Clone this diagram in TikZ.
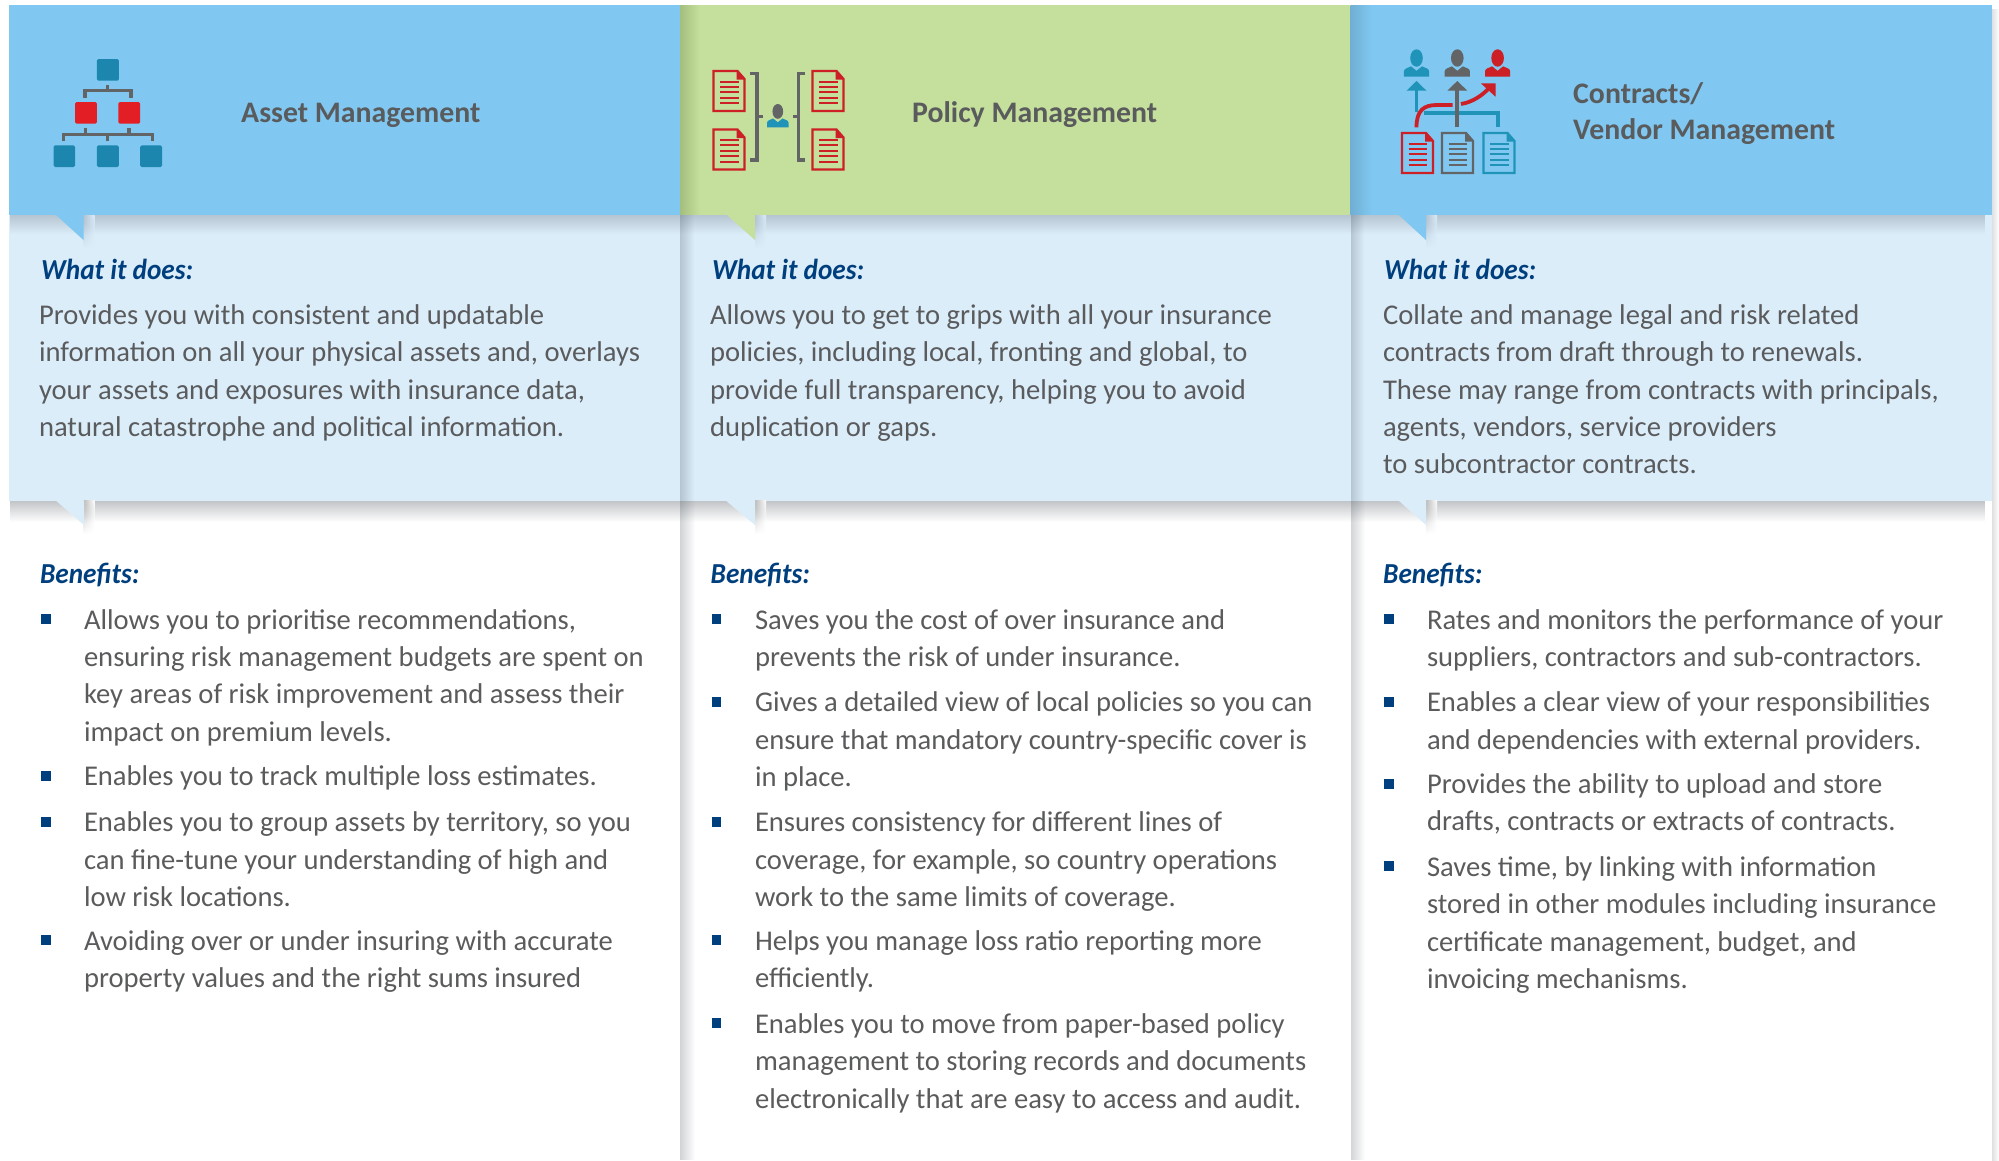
\documentclass[tikz,border=0pt]{standalone}
\usepackage{fontspec}
\usetikzlibrary{fadings}
\setmainfont{Carlito}
\newfontfamily\subfont[FakeStretch=0.94]{Carlito}
\definecolor{hblue}{HTML}{80C8F1}
\definecolor{hgreen}{HTML}{C5DF9C}
\definecolor{lblue}{HTML}{DCEDFA}
\definecolor{txt}{HTML}{5A5B5D}
\definecolor{navy}{HTML}{003F7D}
\definecolor{iteal}{HTML}{1C86AF}
\definecolor{iteal2}{HTML}{2094B8}
\definecolor{ired}{HTML}{E31E24}
\definecolor{dred}{HTML}{CC1F26}
\definecolor{igray}{HTML}{636466}
\definecolor{shblue}{HTML}{B3C3D3}
\definecolor{shgreen}{HTML}{A4BE7E}
\definecolor{shhead}{HTML}{70AFD3}
\definecolor{shwhite}{HTML}{BDBDBD}
\definecolor{shink}{HTML}{1A2530}
\tikzset{
  x=1pt,y=-1pt,
  bodytxt/.style={anchor=north west,inner sep=0pt,outer sep=0pt,align=left,text=txt,
    font=\fontsize{28.6}{37.4}\selectfont},
  headtxt/.style={anchor=base west,inner sep=0pt,text=txt,font=\fontsize{29.8}{37}\selectfont\bfseries},
  subhead/.style={anchor=base west,inner sep=0pt,text=navy,font=\fontsize{29}{37}\selectfont\subfont\bfseries\itshape},
  bull/.style={fill=navy,draw=none},
  conn/.style={draw=igray,line width=3.4pt},
  orgbox/.style={rounded corners=1.5pt,draw=none},
  shadeast/.style={fill=shink,fill opacity=#1,path fading=east},
  shadsouth/.style={fill=shink,fill opacity=#1,path fading=south},
}
\newcommand{\ts}{\rule{0pt}{21pt}}
\newcommand{\bulat}[2]{\fill[bull] (#1,#2-5) rectangle ++(9.5,10);}
\newcommand{\docicon}[3]{%
  \begin{scope}[shift={(#1,#2)}]
    \draw[draw=#3,line width=2.2pt,line join=miter] (0,0) -- (24,0) -- (31,8) -- (31,40) -- (0,40) -- cycle;
    \fill[#3] (23,0) -- (31.5,8.5) -- (23,8.5) -- cycle;
    \foreach \yy in {10.5,15.9,21.3,26.7,32.1}{\draw[draw=#3,line width=2pt] (6.5,\yy) -- (25,\yy);}
  \end{scope}}
\newcommand{\personicon}[5]{% x(center) ytop scale head body
  \begin{scope}[shift={(#1,#2)},scale=#3]
    \fill[#4] (0,8.7) ellipse [x radius=6.3,y radius=8.7];
    \fill[#5] (-12.6,27.4) -- (-12.6,22) .. controls (-12.6,19) and (-8,18.5) .. (-5.5,17)
       -- (0,21.5) -- (5.5,17) .. controls (8,18.5) and (12.6,19) .. (12.6,22) -- (12.6,27.4) -- cycle;
  \end{scope}}
\begin{document}
\begin{tikzpicture}
\useasboundingbox (0,0) rectangle (1999,1160);
% ---------- header bands
\fill[hblue] (9,5.3) rectangle (680,215);
\fill[hgreen] (680,5.3) rectangle (1350.5,215);
\fill[hblue] (1350.5,5.3) rectangle (1992,215);
\shade[left color=shgreen,right color=hgreen] (680,5.3) rectangle (700,215);
\shade[left color=shhead,right color=hblue] (1350.5,5.3) rectangle (1372,215);
% ---------- light panels
\fill[lblue] (9,215) rectangle (1992,500.7);
\fill[shadeast=.2] (680,215) rectangle (694,500.7);
\fill[shadeast=.2] (1350.5,215) rectangle (1364,500.7);
\fill[shadsouth=.2] (12,215) rectangle (1992,234);
% ---------- white zone shadows
\fill[shadeast=.2] (680,500.7) rectangle (695,1160);
\fill[shadeast=.2] (1350.5,500.7) rectangle (1365,1160);
\fill[shadeast=.14] (1992,5.3) rectangle (1999,1160);
\fill[shadsouth=.27] (12,500.7) rectangle (1992,522);
% ---------- tail shadows
\foreach \tx in {83.5,755,1426}{
  \shade[left color=shblue,right color=lblue,path fading=south] (\tx,215) rectangle (\tx+11,248);
  \shade[left color=shwhite,right color=white,path fading=south] (\tx,500.7) rectangle (\tx+11,534);
}
% ---------- tails
\fill[hblue] (56,215) -- (83.5,215) -- (83.5,240) -- cycle;
\fill[hgreen] (727,215) -- (755,215) -- (755,240) -- cycle;
\fill[hblue] (1398.8,215) -- (1426,215) -- (1426,240) -- cycle;
\fill[lblue] (56,500.7) -- (84,500.7) -- (84,525) -- cycle;
\fill[lblue] (726,500.7) -- (755,500.7) -- (755,525) -- cycle;
\fill[lblue] (1398.8,500.7) -- (1426,500.7) -- (1426,525) -- cycle;
% ---------- icon 1
\draw[conn] (107.6,85) -- (107.6,90.7) (84.8,97.5) -- (84.8,90.7) -- (130.8,90.7) -- (130.8,97.5);
\draw[conn] (85.7,128) -- (85.7,134.3) (129,128) -- (129,134.3)
  (63.4,141) -- (63.4,134.3) -- (152.7,134.3) -- (152.7,141) (107.6,134.3) -- (107.6,141);
\fill[iteal,orgbox] (96.9,59) rectangle (118.8,80.7);
\fill[ired,orgbox] (75,102) rectangle (96.9,123.7);
\fill[ired,orgbox] (118.3,102) rectangle (140.2,123.7);
\fill[iteal,orgbox] (53.6,145.3) rectangle (75,167);
\fill[iteal,orgbox] (96.9,145.3) rectangle (118.8,167);
\fill[iteal,orgbox] (140.2,145.3) rectangle (162,167);
% ---------- icon 2
\docicon{713.5}{71}{dred}
\docicon{713.5}{129.5}{dred}
\docicon{812.5}{71}{dred}
\docicon{812.5}{129.5}{dred}
\draw[draw=igray,line width=3.4pt] (750.4,73.5) -- (757,73.5) -- (757,160) -- (750.4,160) (757,116.3) -- (763,116.3);
\draw[draw=igray,line width=3.4pt] (805.3,73.5) -- (798.5,73.5) -- (798.5,160) -- (805.3,160) (798.5,116.3) -- (793,116.3);
\personicon{777.8}{104}{0.85}{igray}{iteal2}
% ---------- icon 3
\docicon{1402}{133}{dred}
\docicon{1442}{133}{igray}
\docicon{1483.5}{133}{iteal2}
\personicon{1416.5}{49.3}{1}{iteal2}{iteal2}
\personicon{1457.3}{49.3}{1}{igray}{igray}
\personicon{1497.6}{49.3}{1}{dred}{dred}
\draw[draw=iteal2,line width=3.8pt] (1416.5,112) -- (1416.5,88);
\fill[iteal2] (1406.5,90.7) -- (1416.5,81) -- (1426.5,90.7) -- cycle;
\draw[draw=iteal2,line width=3.8pt] (1497.6,127.3) -- (1497.6,113.3) -- (1424,113.3);
\draw[draw=dred,line width=3.8pt] (1416.5,127.3) .. controls (1416.5,110) and (1424,105) .. (1437,105) -- (1452.7,105);
\draw[draw=dred,line width=3.8pt] (1461,104) .. controls (1473,102) and (1483,95) .. (1490,87);
\fill[dred] (1480.8,83.3) -- (1495.5,83.3) -- (1495.5,96.7) -- cycle;
\draw[draw=igray,line width=3.8pt] (1457.3,127.3) -- (1457.3,88);
\fill[igray] (1447.3,90.7) -- (1457.3,81) -- (1467.3,90.7) -- cycle;
% ---------- headings
\node[headtxt] (h1) at (241,122) {Asset Management};
\node[headtxt] (h2) at (912,122) {Policy Management};
\node[headtxt] (h3a) at (1573,103) {Contracts/};
\node[headtxt] (h3b) at (1573,139.6) {Vendor Management};
% ---------- what it does
\node[subhead] (w1) at (41,279.6) {What it does:};
\node[subhead] (w2) at (712,279.6) {What it does:};
\node[subhead] (w3) at (1384,279.6) {What it does:};
\node[bodytxt] (d1) at (39,303.3) {\ts Provides you with consistent and updatable\\information on all your physical assets and, overlays\\your assets and exposures with insurance data,\\natural catastrophe and political information.};
\node[bodytxt] (d2) at (710,303.3) {\ts Allows you to get to grips with all your insurance\\policies, including local, fronting and global, to\\provide full transparency, helping you to avoid\\duplication or gaps.};
\node[bodytxt] (d3) at (1383,303.3) {\ts Collate and manage legal and risk related\\contracts from draft through to renewals.\\These may range from contracts with principals,\\agents, vendors, service providers\\to subcontractor contracts.};
% ---------- benefits
\node[subhead] (b1) at (40,583.3) {Benefits:};
\node[subhead] (b2) at (710.5,583.3) {Benefits:};
\node[subhead] (b3) at (1383,583.3) {Benefits:};
% column 1
\bulat{41}{619}\node[bodytxt] (a1) at (84,608) {\ts Allows you to prioritise recommendations,\\ensuring risk management budgets are spent on\\key areas of risk improvement and assess their\\impact on premium levels.};
\bulat{41}{775.8}\node[bodytxt] (a2) at (84,764.8) {\ts Enables you to track multiple loss estimates.};
\bulat{41}{821.7}\node[bodytxt] (a3) at (84,810.7) {\ts Enables you to group assets by territory, so you\\can fine-tune your understanding of high and\\low risk locations.};
\bulat{41}{940.3}\node[bodytxt] (a4) at (84,929.3) {\ts Avoiding over or under insuring with accurate\\property values and the right sums insured};
% column 2
\bulat{711.5}{619}\node[bodytxt] (p1) at (755,608) {\ts Saves you the cost of over insurance and\\prevents the risk of under insurance.};
\bulat{711.5}{701.9}\node[bodytxt] (p2) at (755,690.9) {\ts Gives a detailed view of local policies so you can\\ensure that mandatory country-specific cover is\\in place.};
\bulat{711.5}{821.7}\node[bodytxt] (p3) at (755,810.7) {\ts Ensures consistency for different lines of\\coverage, for example, so country operations\\work to the same limits of coverage.};
\bulat{711.5}{940.3}\node[bodytxt] (p4) at (755,929.3) {\ts Helps you manage loss ratio reporting more\\efficiently.};
\bulat{711.5}{1023.2}\node[bodytxt] (p5) at (755,1012.2) {\ts Enables you to move from paper-based policy\\management to storing records and documents\\electronically that are easy to access and audit.};
% column 3
\bulat{1384}{619}\node[bodytxt] (c1) at (1427,608) {\ts Rates and monitors the performance of your\\suppliers, contractors and sub-contractors.};
\bulat{1384}{701.9}\node[bodytxt] (c2) at (1427,690.9) {\ts Enables a clear view of your responsibilities\\and dependencies with external providers.};
\bulat{1384}{783.5}\node[bodytxt] (c3) at (1427,772.5) {\ts Provides the ability to upload and store\\drafts, contracts or extracts of contracts.};
\bulat{1384}{866.4}\node[bodytxt] (c4) at (1427,855.4) {\ts Saves time, by linking with information\\stored in other modules including insurance\\certificate management, budget, and\\invoicing mechanisms.};
\end{tikzpicture}
\end{document}
